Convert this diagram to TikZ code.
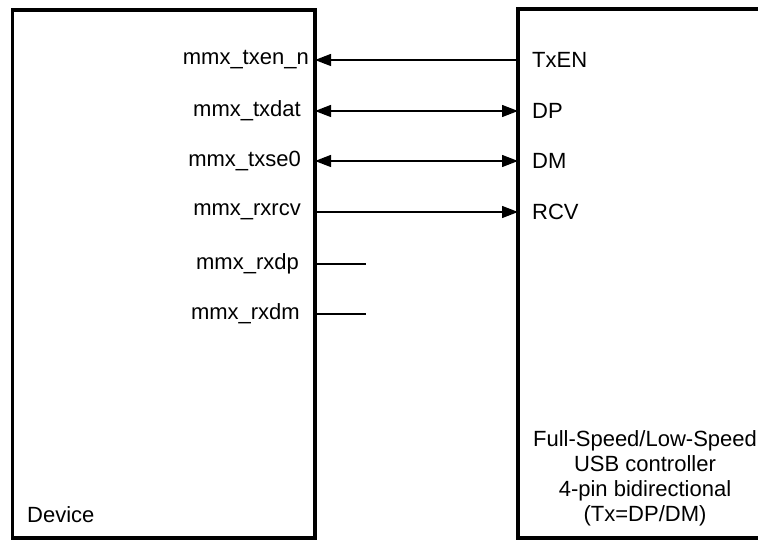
\documentclass[tikz,border=0pt]{standalone}
\usepackage{fontspec}
\setmainfont{Liberation Sans}
\usetikzlibrary{arrows.meta}
\begin{document}
\begin{tikzpicture}[x=1pt,y=1pt,
  box/.style={draw=black, line width=3.5pt, inner sep=0pt, outer sep=0pt},
  pin/.style={font=\fontsize{22}{25}\selectfont, inner sep=0pt},
  conn/.style={line width=1.3pt},
  tip/.tip={Triangle[length=16pt,width=12pt]}]
\useasboundingbox (0,0) rectangle (758,-540);
\clip (0,0) rectangle (758,-540);
\node[box, minimum width=302.5pt, minimum height=528pt] (dev) at (163.75,-274) {};
\node[box, minimum width=282pt, minimum height=529pt] (usb) at (659,-273.5) {};
% left pin labels
\node[pin, anchor=east] (l1) at (309,-60) {mmx\_txen\_n};
\node[pin, anchor=east] (l2) at (301,-111) {mmx\_txdat};
\node[pin, anchor=east] (l3) at (301,-161) {mmx\_txse0};
\node[pin, anchor=east] (l4) at (301,-212) {mmx\_rxrcv};
\node[pin, anchor=east] (l5) at (299,-264) {mmx\_rxdp};
\node[pin, anchor=east] (l6) at (300,-314) {mmx\_rxdm};
% right pin labels
\node[pin, anchor=west] (r1) at (532,-60) {TxEN};
\node[pin, anchor=west] (r2) at (532,-111) {DP};
\node[pin, anchor=west] (r3) at (532,-161) {DM};
\node[pin, anchor=west] (r4) at (532,-212) {RCV};
% box titles
\node[pin, anchor=west] (devname) at (27,-515) {Device};
\node[pin, align=center] (usbname) at (645,-478) {Full-Speed/Low-Speed\\USB controller\\4-pin bidirectional\\(Tx=DP/DM)};
% connectors
\draw[conn, tip-] (dev.east |- l1) -- (usb.west |- l1);
\draw[conn, tip-tip] (dev.east |- l2) -- (usb.west |- l2);
\draw[conn, tip-tip] (dev.east |- l3) -- (usb.west |- l3);
\draw[conn, -tip] (dev.east |- l4) -- (usb.west |- l4);
\coordinate (s5) at (366,-264);
\coordinate (s6) at (366,-314);
\draw[conn] (dev.east |- l5) -- (s5);
\draw[conn] (dev.east |- l6) -- (s6);
\end{tikzpicture}
\end{document}
